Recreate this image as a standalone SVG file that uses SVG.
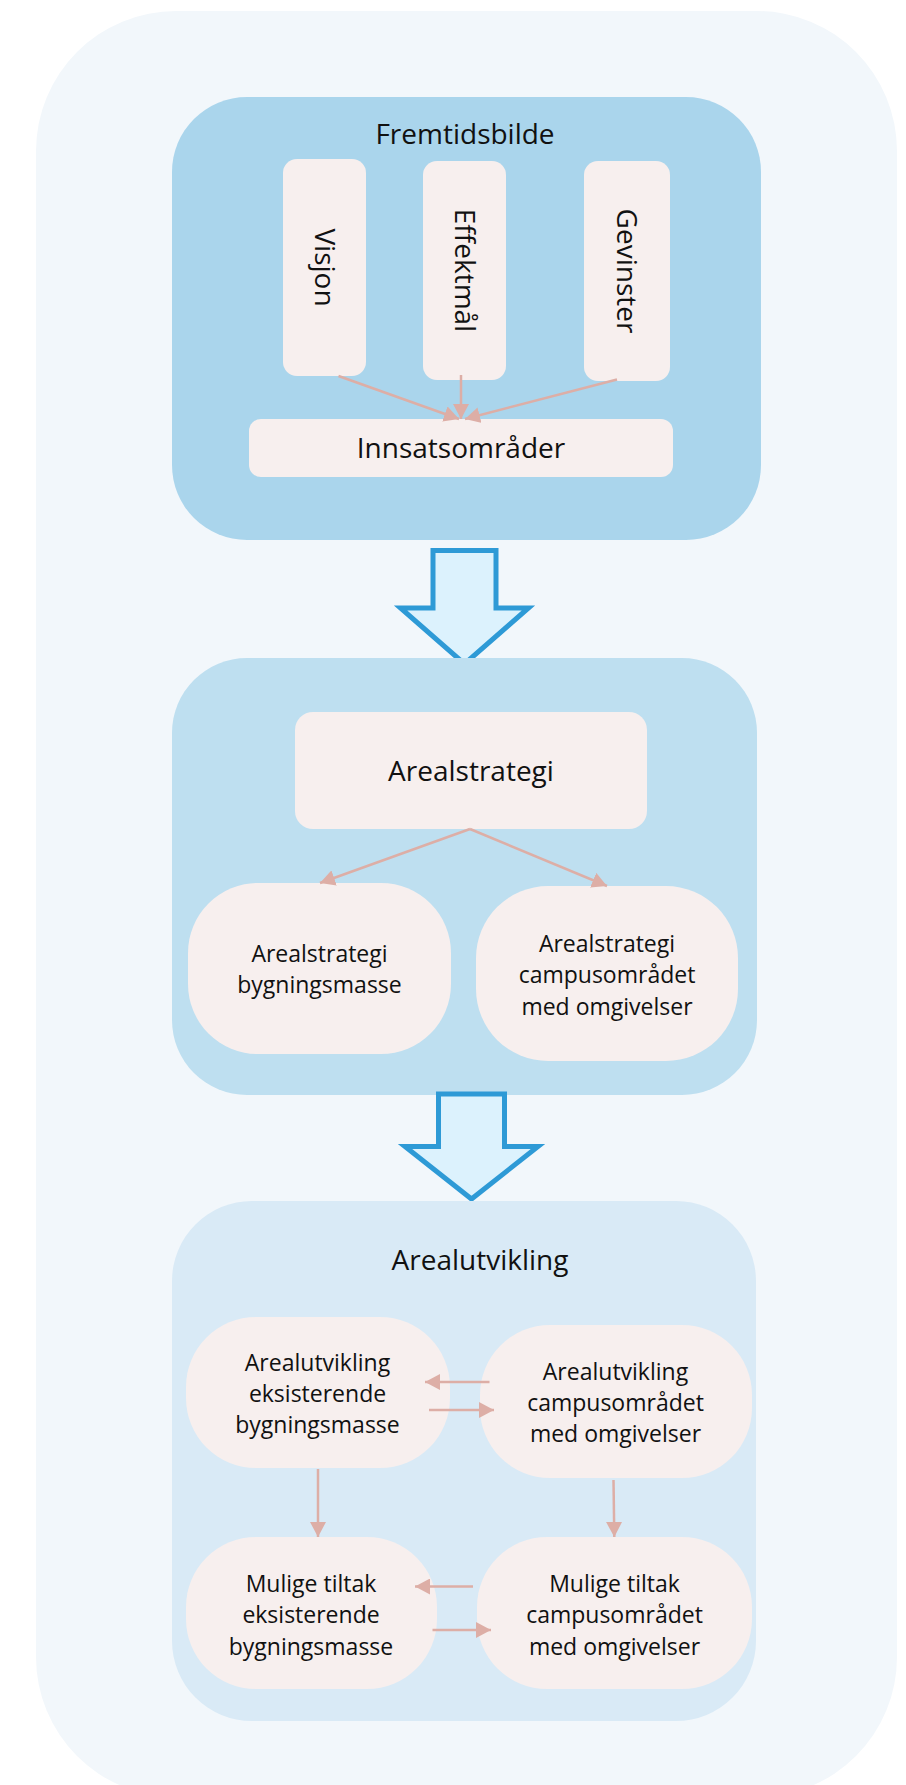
<svg xmlns="http://www.w3.org/2000/svg" width="906" height="1785" viewBox="0 0 906 1785">
<defs>
<style>
text{font-family:"Open Sans","Noto Sans","Liberation Sans",sans-serif;fill:#111;text-anchor:middle}
.big{font-size:28px}
.sm{font-size:23px}
.box{fill:#F7EFEE}
.con{stroke:#DDAEA6;stroke-width:2.5;fill:none;marker-end:url(#ah)}
.bigarrow{fill:#DCF2FD;stroke:#2E9AD6;stroke-width:5;stroke-linejoin:miter}
</style>
<marker id="ah" viewBox="0 0 15 16" refX="15" refY="8" markerWidth="15" markerHeight="16" markerUnits="userSpaceOnUse" orient="auto">
<path d="M0,0 L15,8 L0,16 z" fill="#DDAEA6"/>
</marker>
</defs>
<rect x="36" y="11" width="861" height="1786" rx="140" ry="140" fill="#F2F7FB"/>

<g id="panel-fremtidsbilde">
<rect x="172" y="97" width="589" height="443" rx="75" ry="75" fill="#AAD5EC"/>
<text class="big" x="465" y="144">Fremtidsbilde</text>
</g>
<g id="visjon">
<rect class="box" x="283" y="159" width="83" height="217" rx="14"/>
<text class="big" transform="translate(324.5,267.5) rotate(90)" y="10">Visjon</text>
</g>
<g id="effektmal">
<rect class="box" x="423" y="161" width="83" height="219" rx="14"/>
<text class="big" transform="translate(464.5,270.5) rotate(90)" y="10">Effektmål</text>
</g>
<g id="gevinster">
<rect class="box" x="584" y="161" width="86" height="220" rx="14"/>
<text class="big" transform="translate(627,271) rotate(90)" y="10">Gevinster</text>
</g>
<g id="innsatsomrader">
<rect class="box" x="249" y="419" width="424" height="58" rx="12"/>
<text class="big" x="461" y="458">Innsatsområder</text>
</g>

<g id="arrow-1">
<path class="bigarrow" d="M433,550.5 L496,550.5 L496,608 L528.5,608 L464.5,664 L400.5,608 L433,608 Z"/>
</g>

<g id="panel-arealstrategi">
<rect x="172" y="658" width="585" height="437" rx="75" ry="75" fill="#BEDFF0"/>
</g>
<g id="arealstrategi">
<rect class="box" x="295" y="712" width="352" height="117" rx="18"/>
<text class="big" x="471" y="781">Arealstrategi</text>
</g>
<g id="arealstrategi-bygningsmasse">
<rect class="box" x="188" y="883" width="263" height="171" rx="70"/>
<text class="sm" x="319.5" y="961.5">Arealstrategi</text>
<text class="sm" x="319.5" y="993">bygningsmasse</text>
</g>
<g id="arealstrategi-campus">
<rect class="box" x="476" y="886" width="262" height="175" rx="72"/>
<text class="sm" x="607" y="951.5">Arealstrategi</text>
<text class="sm" x="607" y="983">campusområdet</text>
<text class="sm" x="607" y="1015">med omgivelser</text>
</g>

<g id="arrow-2">
<path class="bigarrow" d="M438.5,1094 L504.5,1094 L504.5,1146.5 L538,1146.5 L471.5,1199 L405,1146.5 L438.5,1146.5 Z"/>
</g>

<g id="panel-arealutvikling">
<rect x="172" y="1201" width="584" height="520" rx="80" ry="80" fill="#D9EAF6"/>
<text class="big" x="480" y="1270">Arealutvikling</text>
</g>
<g id="arealutvikling-eksisterende">
<rect class="box" x="186" y="1317" width="264" height="151" rx="70"/>
<text class="sm" x="317.5" y="1370.5">Arealutvikling</text>
<text class="sm" x="317.5" y="1402">eksisterende</text>
<text class="sm" x="317.5" y="1433">bygningsmasse</text>
</g>
<g id="arealutvikling-campus">
<rect class="box" x="480" y="1325" width="272" height="153" rx="70"/>
<text class="sm" x="615.5" y="1380">Arealutvikling</text>
<text class="sm" x="615.5" y="1411">campusområdet</text>
<text class="sm" x="615.5" y="1442">med omgivelser</text>
</g>
<g id="tiltak-eksisterende">
<rect class="box" x="186" y="1537" width="251" height="152" rx="70"/>
<text class="sm" x="311" y="1591.5">Mulige tiltak</text>
<text class="sm" x="311" y="1623">eksisterende</text>
<text class="sm" x="311" y="1655">bygningsmasse</text>
</g>
<g id="tiltak-campus">
<rect class="box" x="477" y="1537" width="275" height="152" rx="70"/>
<text class="sm" x="614.5" y="1591.5">Mulige tiltak</text>
<text class="sm" x="614.5" y="1623">campusområdet</text>
<text class="sm" x="614.5" y="1655">med omgivelser</text>
</g>

<g id="connectors">
<line class="con" x1="338.5" y1="376" x2="459" y2="419"/>
<line class="con" x1="461" y1="375" x2="461" y2="419"/>
<line class="con" x1="617" y1="379.5" x2="465" y2="419"/>
<line class="con" x1="470" y1="829" x2="320" y2="883"/>
<line class="con" x1="470" y1="829" x2="607" y2="886"/>
<line class="con" x1="489.5" y1="1382" x2="425" y2="1382"/>
<line class="con" x1="429" y1="1410" x2="494" y2="1410"/>
<line class="con" x1="318" y1="1469" x2="318" y2="1537"/>
<line class="con" x1="613.5" y1="1480" x2="614.3" y2="1537"/>
<line class="con" x1="473" y1="1586.5" x2="415" y2="1586.5"/>
<line class="con" x1="432.5" y1="1630" x2="491" y2="1630"/>
</g>
</svg>
